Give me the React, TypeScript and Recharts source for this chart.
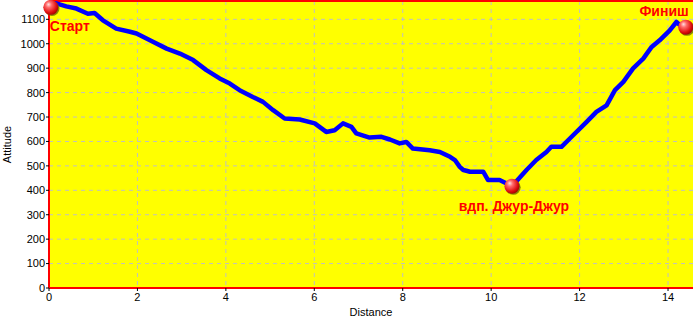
import React from 'react';
import { LineChart, Line, XAxis, YAxis, CartesianGrid, ReferenceDot, ReferenceLine } from 'recharts';

const distances = [0, 0.13, 0.39, 0.62, 0.88, 1.03, 1.22, 1.52, 1.83, 1.98, 2.35, 2.66, 2.96, 3.26, 3.56, 3.86, 4.09, 4.31, 4.61, 4.84, 5.07, 5.33, 5.67, 6.01, 6.27, 6.46, 6.65, 6.84, 6.95, 7.25, 7.52, 7.71, 7.93, 8.08, 8.23, 8.61, 8.84, 9.07, 9.18, 9.29, 9.37, 9.44, 9.52, 9.82, 9.93, 10.19, 10.35, 10.47, 10.8, 11.02, 11.25, 11.36, 11.59, 11.78, 12.16, 12.38, 12.61, 12.8, 12.99, 13.21, 13.44, 13.63, 13.81, 14.04, 14.19, 14.27];
const altitudes = [1166, 1167, 1153, 1144, 1123, 1126, 1096, 1062, 1049, 1042, 1008, 980, 960, 933, 892, 858, 837, 810, 782, 762, 728, 694, 690, 674, 639, 646, 674, 660, 633, 616, 619, 608, 592, 598, 571, 564, 557, 537, 524, 496, 483, 480, 476, 476, 442, 442, 428, 417, 483, 524, 557, 578, 578, 612, 680, 721, 748, 810, 844, 899, 939, 987, 1014, 1055, 1089, 1076];

const xTicks = [0, 2, 4, 6, 8, 10, 12, 14];
const yTicks = [0, 100, 200, 300, 400, 500, 600, 700, 800, 900, 1000, 1100];

const waypointNames = ['Старт', 'вдп. Джур-Джур', 'Финиш'];
const waypointDistances = [0.04, 10.47, 14.4];
const waypointAltitudes = [1149, 417, 1068];

const X_MAX = 14.565;
const Y_MAX = 1175;

const labelStyles = [
  { anchor: 'start', dx: -1, dy: 24 },
  { anchor: 'middle', dx: 2, dy: 25 },
  { anchor: 'end', dx: 3, dy: -11 },
];

const data = distances.map((d, i) => ({ d, alt: altitudes[i] }));

const tickFont = { fill: '#000', fontSize: 11, fontFamily: 'Liberation Sans, Arial, sans-serif' };

function makeMarker(name: string, style: { anchor: string; dx: number; dy: number }) {
  return (props: any) => {
    const { cx, cy } = props;
    return (
      <g>
        <circle cx={cx + 1.2} cy={cy + 1.2} r={7.5} fill="#6b6b00" opacity={0.8} />
        <circle cx={cx} cy={cy} r={7.5} fill="url(#sphereGrad)" />
        <text
          x={cx + style.dx}
          y={cy + style.dy}
          textAnchor={style.anchor as any}
          fill="#ff0000"
          fontSize={14}
          fontWeight="bold"
          fontFamily="Liberation Sans, Arial, sans-serif"
        >
          {name}
        </text>
      </g>
    );
  };
}

export default function App() {
  return (
    <div style={{ position: 'absolute', left: 0, top: 0, width: 693, height: 321, background: '#fff' }}>
      <LineChart width={693} height={321} data={data} margin={{ top: 1, right: 0, left: 0, bottom: 0 }}>
        <defs>
          <radialGradient id="sphereGrad" cx="0.4" cy="0.38" r="0.65" fx="0.35" fy="0.3">
            <stop offset="0%" stopColor="#ffe0e0" />
            <stop offset="30%" stopColor="#ff6a6a" />
            <stop offset="75%" stopColor="#e01010" />
            <stop offset="100%" stopColor="#a00000" />
          </radialGradient>
        </defs>
        <CartesianGrid
          fill="#ffff00"
          fillOpacity={1}
          stroke="#c0c0c0"
          strokeDasharray="4 4"
          horizontalValues={yTicks}
          verticalValues={xTicks}
        />
        <XAxis
          dataKey="d"
          type="number"
          domain={[0, X_MAX]}
          ticks={xTicks}
          allowDataOverflow
          height={33}
          axisLine={{ stroke: '#ff0000', strokeWidth: 2 }}
          tickLine={{ stroke: '#000' }}
          tickSize={3}
          tickMargin={2}
          tick={tickFont}
          label={{
            content: (p: any) => {
              const vb = p.viewBox;
              return (
                <text x={vb.x + vb.width / 2} y={vb.y + 28} textAnchor="middle" {...tickFont}>
                  Distance
                </text>
              );
            },
          }}
        />
        <YAxis
          type="number"
          domain={[0, Y_MAX]}
          ticks={yTicks}
          allowDataOverflow
          width={49}
          axisLine={{ stroke: '#ff0000', strokeWidth: 2 }}
          tickLine={{ stroke: '#000' }}
          tickSize={3}
          tickMargin={1}
          tick={tickFont}
          label={{
            content: (p: any) => {
              const vb = p.viewBox;
              const x = vb.x + 7;
              const y = vb.y + vb.height / 2;
              return (
                <text x={x} y={y} textAnchor="middle" dominantBaseline="central" transform={`rotate(-90, ${x}, ${y})`} {...tickFont}>
                  Attitude
                </text>
              );
            },
          }}
        />
        <ReferenceLine y={Y_MAX} stroke="#ff0000" strokeWidth={2} ifOverflow="visible" />
        <Line
          type="linear"
          dataKey="alt"
          stroke="#0000ff"
          strokeWidth={4.5}
          strokeLinejoin="round"
          dot={false}
          isAnimationActive={false}
        />
        {waypointNames.map((name, i) => (
          <ReferenceDot
            key={name}
            x={waypointDistances[i]}
            y={waypointAltitudes[i]}
            r={7.5}
            ifOverflow="visible"
            shape={makeMarker(name, labelStyles[i])}
          />
        ))}
      </LineChart>
    </div>
  );
}
